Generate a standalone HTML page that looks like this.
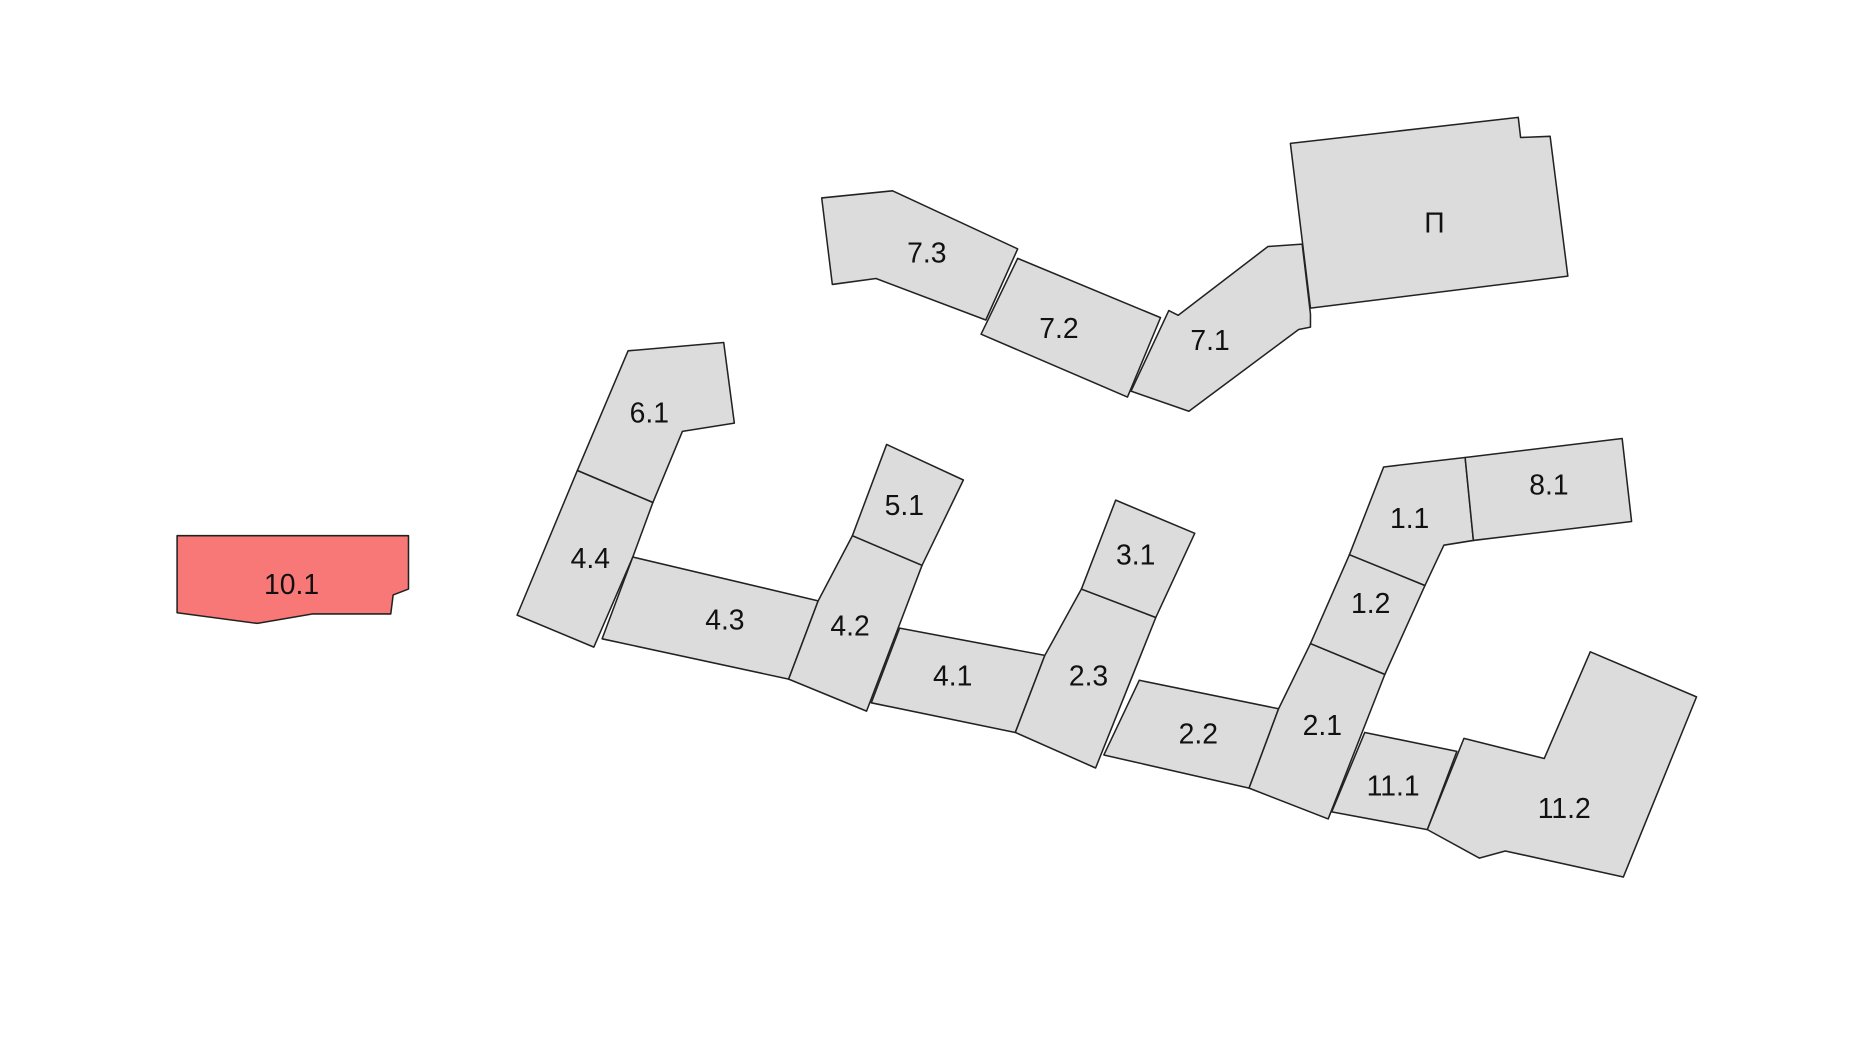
<!DOCTYPE html>
<html><head><meta charset="utf-8"><style>
html,body{margin:0;padding:0;background:#fff;width:1850px;height:1040px;overflow:hidden}
svg{display:block}
text{font-family:"Liberation Sans",sans-serif;font-size:24px;fill:#111;text-anchor:middle;dominant-baseline:middle}
polygon{fill:#dcdcdc;stroke:#222;stroke-width:1.3;stroke-linejoin:round}
</style></head><body>
<svg width="1850" height="1040" viewBox="0 0 1567 877.5" preserveAspectRatio="none">
<polygon style="fill:#f87878" points="150,452 346,452 346,497 333,502 331,518 265,518 218,526 150,517"/>
<polygon points="532,296 613,289 622,357 578,364 553,424 489,397"/>
<polygon points="489,397 553,424 536,470 503,546 438,519"/>
<polygon points="536,470 693,507 668,573 510,539"/>
<polygon points="722,452 781,477 734,600 668,573 693,507"/>
<polygon points="751,375 816,405 781,477 722,452"/>
<polygon points="762,530 885,553 860,618 738,593"/>
<polygon points="916,497 979,521 928,648 860,618 885,553"/>
<polygon points="945,422 1012,450 979,521 916,497"/>
<polygon points="965,574 1083,598 1058,665 935,637"/>
<polygon points="1110,543 1173,569 1125,691 1058,665 1083,598"/>
<polygon points="1143,468 1207,494 1173,569 1110,543"/>
<polygon points="1172,394 1241,386 1248,456 1223,460 1207,494 1143,468"/>
<polygon points="1241,386 1374,370 1382,440 1248,456"/>
<polygon points="1156,618 1234,634 1209,700 1128,685"/>
<polygon points="1240,623 1308,640 1347,550 1437,588 1375,740 1275,718 1253,724 1209,700"/>
<polygon points="696,167 756,161 862,210 835,270 742,235 705,240"/>
<polygon points="862,218 983,268 955,335 831,282"/>
<polygon points="990,262 998,266 1074,208 1103,206 1110,265 1110,276 1100,278 1007,347 958,330"/>
<polygon points="1093,121 1286,99 1288,116 1313,115 1328,233 1110,260"/>
<text x="247" y="495">10.1</text>
<text x="550" y="350">6.1</text>
<text x="500" y="473">4.4</text>
<text x="614" y="525">4.3</text>
<text x="720" y="530">4.2</text>
<text x="766" y="428">5.1</text>
<text x="807" y="572">4.1</text>
<text x="922" y="572">2.3</text>
<text x="962" y="470">3.1</text>
<text x="1015" y="621">2.2</text>
<text x="1120" y="614">2.1</text>
<text x="1161" y="511">1.2</text>
<text x="1194" y="439">1.1</text>
<text x="1312" y="411">8.1</text>
<text x="1180" y="665">11.1</text>
<text x="1325" y="684">11.2</text>
<text x="785" y="215">7.3</text>
<text x="897" y="279">7.2</text>
<text x="1025" y="289">7.1</text>
<text x="1215" y="190">П</text>
</svg>
</body></html>
